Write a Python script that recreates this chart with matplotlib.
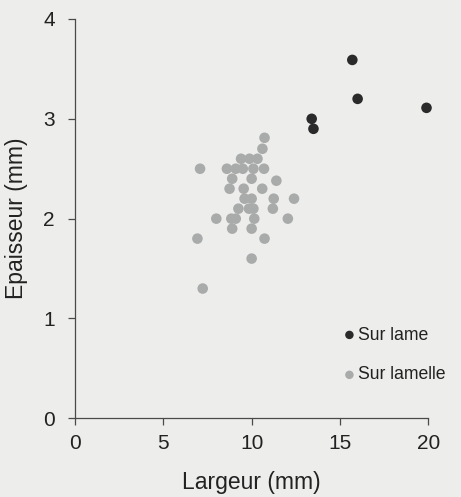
import matplotlib
matplotlib.use("Agg")
import matplotlib.pyplot as plt

plt.rcParams['font.family'] = ['Liberation Sans', 'DejaVu Sans']

# Largeur / épaisseur des pièces (mm)
lame_largeur = [15.7, 16.0, 19.9, 13.4, 13.5]
lame_epaisseur = [3.59, 3.20, 3.11, 3.00, 2.90]

lamelle_largeur = [10.73, 10.61,
                   9.40, 9.88, 10.33,
                   7.08, 8.6, 9.1, 9.5, 10.1, 10.7,
                   8.9, 10.0, 11.4,
                   8.75, 9.55, 10.6,
                   9.6, 10.0, 11.25, 12.4,
                   9.25, 9.85, 10.1, 11.2,
                   8.0, 8.85, 9.1, 10.15, 12.05,
                   8.9, 10.0,
                   6.93, 10.73,
                   10.0,
                   7.23]
lamelle_epaisseur = [2.81, 2.70,
                     2.60, 2.60, 2.60,
                     2.50, 2.50, 2.50, 2.50, 2.50, 2.50,
                     2.40, 2.40, 2.38,
                     2.30, 2.30, 2.30,
                     2.20, 2.20, 2.20, 2.20,
                     2.10, 2.10, 2.10, 2.10,
                     2.00, 2.00, 2.00, 2.00, 2.00,
                     1.90, 1.90,
                     1.80, 1.80,
                     1.60,
                     1.30]

x_ticks = [0, 5, 10, 15, 20]
y_ticks = [0, 1, 2, 3, 4]

bg = '#ededeb'
axis_col = '#4a4a4a'
text_col = '#222222'

fig = plt.figure(figsize=(4.61, 4.97), dpi=100, facecolor=bg)
ax = fig.add_axes([0.1627, 0.1583, 0.7663, 0.8035], facecolor=bg)

ax.scatter(lame_largeur, lame_epaisseur, s=58, color='#2a2a2a',
           edgecolors='none', label='Sur lame', clip_on=False, zorder=3)
ax.scatter(lamelle_largeur, lamelle_epaisseur, s=58, color='#a9abab',
           edgecolors='none', label='Sur lamelle', clip_on=False, zorder=2)

ax.set_xlim(0, 20)
ax.set_ylim(0, 4)
ax.set_xticks(x_ticks)
ax.set_yticks(y_ticks)

for side in ['top', 'right']:
    ax.spines[side].set_visible(False)
for side in ['left', 'bottom']:
    ax.spines[side].set_color(axis_col)
    ax.spines[side].set_linewidth(0.9)

ax.tick_params(axis='both', direction='out', length=5, width=0.9,
               color=axis_col, labelsize=15, labelcolor=text_col)
ax.tick_params(axis='y', pad=9.5)
ax.tick_params(axis='x', pad=6)

ax.set_xlabel('Largeur (mm)', fontsize=16.5, color=text_col)
ax.set_ylabel('Epaisseur (mm)', fontsize=16.5, color=text_col)
ax.xaxis.set_label_coords(0.5, -0.132)
ax.yaxis.set_label_coords(-0.133, 0.5)

fig.legend(loc='center left', bbox_to_anchor=(345 / 461, 1 - 355 / 497),
           frameon=False, fontsize=12.7, markerscale=0.8, handlelength=0.5,
           handletextpad=0.25, labelspacing=1.3, borderpad=0,
           borderaxespad=0, labelcolor=text_col)

fig.savefig('out.png', dpi=100, facecolor=bg)
